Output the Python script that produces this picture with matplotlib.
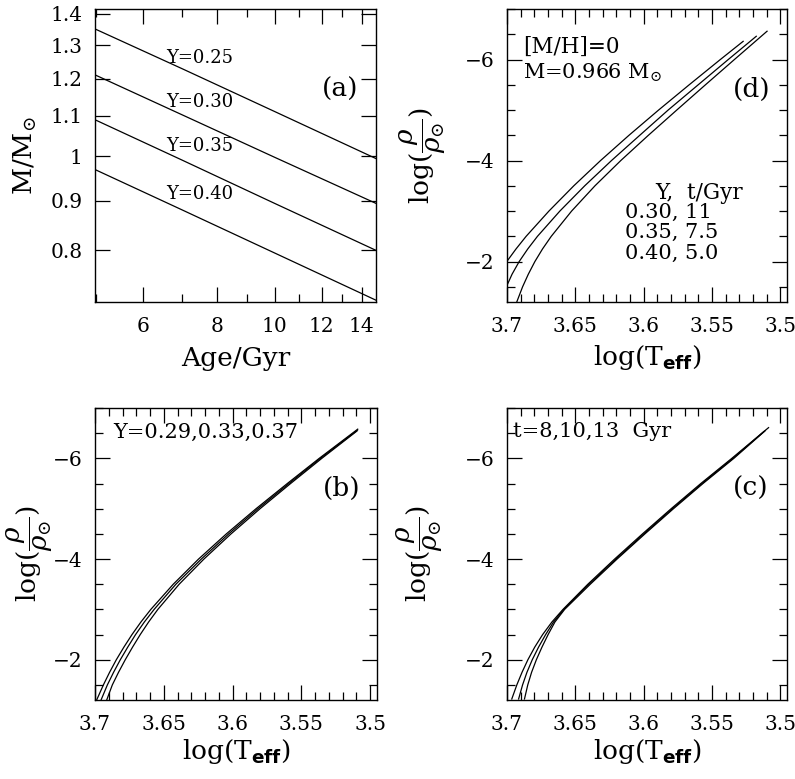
import matplotlib
matplotlib.use("Agg")
import matplotlib.pyplot as plt
from matplotlib.ticker import FixedLocator, FixedFormatter, NullLocator, NullFormatter, MultipleLocator, FuncFormatter

plt.rcParams['font.family'] = ['DejaVu Serif']
plt.rcParams['mathtext.fontset'] = 'custom'
plt.rcParams['mathtext.rm'] = 'DejaVu Serif'
plt.rcParams['mathtext.it'] = 'DejaVu Serif:italic'
plt.rcParams['mathtext.bf'] = 'DejaVu Sans:bold'
plt.rcParams['mathtext.sf'] = 'DejaVu Sans'

# ---------------- data ----------------
# panel (a): mass vs age for different helium abundances
ages = [5.0, 7.0, 10.0, 14.8]
mass_Y025 = [1.350, 1.229, 1.111, 0.994]
mass_Y030 = [1.211, 1.102, 0.997, 0.894]
mass_Y035 = [1.089, 0.990, 0.894, 0.800]
mass_Y040 = [0.968, 0.880, 0.795, 0.711]
a_labels = ["Y=0.25", "Y=0.30", "Y=0.35", "Y=0.40"]

# panel (d): M = 0.966 Msun, (Y, t/Gyr) = (0.30, 11), (0.35, 7.5), (0.40, 5.0)
d_T_1 = [3.7010, 3.6934, 3.6860, 3.6693, 3.6511, 3.6315, 3.6107, 3.5890, 3.5666, 3.5438, 3.5271]
d_r_1 = [-1.97, -2.25, -2.50, -3.00, -3.50, -4.00, -4.50, -5.00, -5.50, -6.00, -6.36]
d_T_2 = [3.7005, 3.6963, 3.6911, 3.6848, 3.6777, 3.6613, 3.6431, 3.6235, 3.6028, 3.5820, 3.5600, 3.5380, 3.5175]
d_r_2 = [-1.50, -1.75, -2.00, -2.25, -2.50, -3.00, -3.50, -4.00, -4.50, -5.00, -5.50, -6.00, -6.46]
d_T_3 = [3.6930, 3.6886, 3.6844, 3.6796, 3.6740, 3.6676, 3.6527, 3.6356, 3.6167, 3.5965, 3.5757, 3.5547, 3.5335, 3.5096]
d_r_3 = [-1.19, -1.50, -1.75, -2.00, -2.25, -2.50, -3.00, -3.50, -4.00, -4.50, -5.00, -5.50, -6.00, -6.56]

# panel (b): Y = 0.29, 0.33, 0.37
b_T_1 = [3.6988, 3.6939, 3.6894, 3.6845, 3.6790, 3.6731, 3.6666, 3.6594, 3.6431, 3.6247, 3.6045, 3.5829, 3.5602, 3.5370, 3.5090]
b_r_1 = [-1.20, -1.50, -1.75, -2.00, -2.25, -2.50, -2.75, -3.00, -3.50, -4.00, -4.50, -5.00, -5.50, -6.00, -6.58]
b_T_2 = [3.6956, 3.6910, 3.6865, 3.6816, 3.6762, 3.6705, 3.6641, 3.6570, 3.6412, 3.6227, 3.6028, 3.5815, 3.5590, 3.5361, 3.5092]
b_r_2 = [-1.20, -1.50, -1.75, -2.00, -2.25, -2.50, -2.75, -3.00, -3.50, -4.00, -4.50, -5.00, -5.50, -6.00, -6.56]
b_T_3 = [3.6915, 3.6874, 3.6829, 3.6780, 3.6727, 3.6671, 3.6610, 3.6543, 3.6388, 3.6208, 3.6011, 3.5800, 3.5578, 3.5351, 3.5097]
b_r_3 = [-1.20, -1.50, -1.75, -2.00, -2.25, -2.50, -2.75, -3.00, -3.50, -4.00, -4.50, -5.00, -5.50, -6.00, -6.54]

# panel (c): t = 8, 10, 13 Gyr
c_T_1 = [3.6965, 3.6928, 3.6890, 3.6847, 3.6797, 3.6739, 3.6671, 3.6590, 3.6408, 3.6212, 3.6008, 3.5798, 3.5581, 3.5354, 3.5085]
c_r_1 = [-1.22, -1.50, -1.75, -2.00, -2.25, -2.50, -2.75, -3.00, -3.50, -4.00, -4.50, -5.00, -5.50, -6.00, -6.61]
c_T_2 = [3.6915, 3.6886, 3.6854, 3.6815, 3.6769, 3.6717, 3.6659, 3.6584, 3.6399, 3.6202, 3.5998, 3.5789, 3.5572, 3.5346, 3.5120]
c_r_2 = [-1.22, -1.50, -1.75, -2.00, -2.25, -2.50, -2.75, -3.00, -3.50, -4.00, -4.50, -5.00, -5.50, -6.00, -6.53]
c_T_3 = [3.6872, 3.6848, 3.6820, 3.6785, 3.6744, 3.6699, 3.6649, 3.6578, 3.6390, 3.6194, 3.5990, 3.5781, 3.5565, 3.5339, 3.5109]
c_r_3 = [-1.22, -1.50, -1.75, -2.00, -2.25, -2.50, -2.75, -3.00, -3.50, -4.00, -4.50, -5.00, -5.50, -6.00, -6.55]

teff_ticks = [3.7, 3.65, 3.6, 3.55, 3.5]
rho_ticks = [-6, -4, -2]
age_ticks = [6, 8, 10, 12, 14]
mass_ticks = [0.8, 0.9, 1.0, 1.1, 1.2, 1.3, 1.4]
mass_ticklabels = ["0.8", "0.9", "1", "1.1", "1.2", "1.3", "1.4"]

# ---------------- figure ----------------
fig = plt.figure(figsize=(7.95, 7.79), dpi=100)
W, H = 795.0, 779.0

def add_ax(x0, x1, y0, y1):
    return fig.add_axes([x0 / W, 1 - y1 / H, (x1 - x0) / W, (y1 - y0) / H])

axA = add_ax(95, 376, 9, 302)
axD = add_ax(507, 787, 9, 302)
axB = add_ax(95, 377, 408, 700)
axC = add_ax(507, 787, 408, 700)

LW = 0.9
TICKFS = 14.5

def style(ax):
    for s in ax.spines.values():
        s.set_linewidth(1.0)
    ax.tick_params(which='both', direction='in', top=True, right=True,
                   labelsize=TICKFS, width=0.9)
    ax.tick_params(which='major', length=11)
    ax.tick_params(which='minor', length=6)
    ax.tick_params(axis='x', which='major', pad=11)
    ax.tick_params(axis='y', which='major', pad=9)

# ---- panel (a)
for m in (mass_Y025, mass_Y030, mass_Y035, mass_Y040):
    axA.plot(ages, m, color='black', lw=LW)
axA.set_xscale('log')
axA.set_yscale('log')
axA.set_xlim(4.99, 14.8)
axA.set_ylim(0.708, 1.416)
axA.xaxis.set_major_locator(FixedLocator(age_ticks))
axA.xaxis.set_major_formatter(FixedFormatter([str(t) for t in age_ticks]))
axA.xaxis.set_minor_locator(FixedLocator([5, 7, 9, 11, 13]))
axA.xaxis.set_minor_formatter(NullFormatter())
axA.yaxis.set_major_locator(FixedLocator(mass_ticks))
axA.yaxis.set_major_formatter(FixedFormatter(mass_ticklabels))
axA.yaxis.set_minor_locator(NullLocator())
style(axA)
axA.set_xlabel('Age/Gyr', fontsize=19)
axA.set_ylabel(r'M/M$_{\odot}$', fontsize=19)
axA.xaxis.set_label_coords(0.5, -0.15)
axA.yaxis.set_label_coords(-0.20, 0.5)
for lab, yy in zip(a_labels, [0.833, 0.683, 0.532, 0.369]):
    axA.text(0.255, yy, lab, transform=axA.transAxes, fontsize=13, va='center', ha='left')
axA.text(0.808, 0.724, '(a)', transform=axA.transAxes, fontsize=19, va='center', ha='left')

# ---- rho-Teff panels
def rho_panel(ax, curves, label_letter):
    for T, r in curves:
        ax.plot(T, r, color='black', lw=LW)
    ax.set_xlim(3.7, 3.495)
    ax.set_ylim(-1.2, -7.0)
    ax.xaxis.set_major_locator(FixedLocator(teff_ticks))
    ax.xaxis.set_major_formatter(FuncFormatter(lambda v, p: '%g' % v))
    ax.xaxis.set_minor_locator(MultipleLocator(0.01))
    ax.yaxis.set_major_locator(FixedLocator(rho_ticks))
    ax.yaxis.set_major_formatter(FuncFormatter(lambda v, p: '\u2212%d' % abs(v)))
    ax.yaxis.set_minor_locator(MultipleLocator(0.5))
    style(ax)
    ax.set_xlabel(r'$\log(\mathrm{T}_{\mathbf{eff}})$', fontsize=19)
    ax.set_ylabel(r'$\log(\dfrac{\rho}{\rho_{\odot}})$', fontsize=19)
    ax.text(0.807, 0.725, label_letter, transform=ax.transAxes, fontsize=19, va='center', ha='left')

rho_panel(axD, [(d_T_1, d_r_1), (d_T_2, d_r_2), (d_T_3, d_r_3)], '(d)')
rho_panel(axB, [(b_T_1, b_r_1), (b_T_2, b_r_2), (b_T_3, b_r_3)], '(b)')
rho_panel(axC, [(c_T_1, c_r_1), (c_T_2, c_r_2), (c_T_3, c_r_3)], '(c)')

axD.xaxis.set_label_coords(0.5, -0.14)
axD.yaxis.set_label_coords(-0.21, 0.5)
axB.xaxis.set_label_coords(0.5, -0.127)
axB.yaxis.set_label_coords(-0.142, 0.5)
axC.xaxis.set_label_coords(0.5, -0.127)
axC.yaxis.set_label_coords(-0.22, 0.5)

axD.text(0.057, 0.870, '[M/H]=0', transform=axD.transAxes, fontsize=15.5, va='center', ha='left')
axD.text(0.057, 0.782, r'M=0.966 M$_{\odot}$', transform=axD.transAxes, fontsize=15, va='center', ha='left')
axD.text(0.529, 0.372, 'Y,  t/Gyr', transform=axD.transAxes, fontsize=15.5, va='center', ha='left')
for s, yy in zip(['0.30, 11', '0.35, 7.5', '0.40, 5.0'], [0.307, 0.239, 0.167]):
    axD.text(0.421, yy, s, transform=axD.transAxes, fontsize=15, va='center', ha='left')

axB.text(0.064, 0.918, 'Y=0.29,0.33,0.37', transform=axB.transAxes, fontsize=15, va='center', ha='left')
axC.text(0.021, 0.918, 't=8,10,13  Gyr', transform=axC.transAxes, fontsize=15, va='center', ha='left')

fig.savefig('out.png', dpi=100)
